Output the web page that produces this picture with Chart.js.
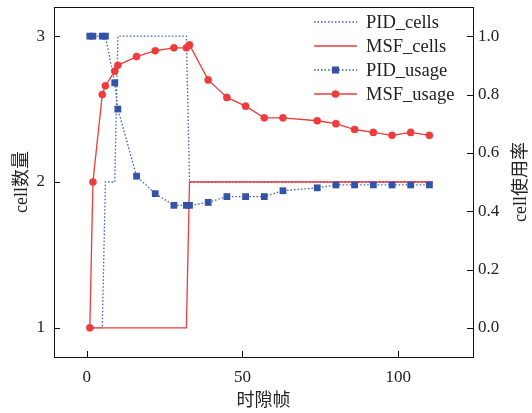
<!DOCTYPE html>
<html lang="zh">
<head>
<meta charset="UTF-8">
<title>cell数量与cell使用率</title>
<script src="https://cdn.jsdelivr.net/npm/chart.js"></script>
<style>
  html, body { margin: 0; padding: 0; background: #fff; }
  #wrap { width: 532px; height: 413px; }
</style>
</head>
<body>
<div id="wrap"><canvas id="chart" width="532" height="413"></canvas></div>
<script>
// 时隙帧 where the usage values were logged
const usageFrames = [1, 2, 5, 6, 9, 10, 16, 22, 28, 32, 33, 39, 45, 51, 57, 63, 74, 80, 86, 92, 98, 104, 110];
const pidUsage = [1.0, 1.0, 1.0, 1.0, 0.84, 0.75, 0.52, 0.46, 0.42, 0.42, 0.42, 0.43, 0.45, 0.45, 0.45, 0.47, 0.48, 0.49, 0.49, 0.49, 0.49, 0.49, 0.49];
const msfUsage = [0.0, 0.50, 0.80, 0.83, 0.88, 0.90, 0.93, 0.95, 0.96, 0.96, 0.97, 0.85, 0.79, 0.76, 0.72, 0.72, 0.71, 0.70, 0.68, 0.67, 0.66, 0.67, 0.66];

// cell count: frames where the step changes
const pidCellFrames = [1, 5, 6, 9, 10, 32, 33, 111];
const pidCells = [1, 1, 2, 2, 3, 3, 2, 2];
const msfCellFrames = [1, 32, 33, 111];
const msfCells = [1, 1, 2, 2];

const xTicks = [0, 50, 100];
const cellTicks = [1, 2, 3];
const usageTicks = [0, 0.2, 0.4, 0.6, 0.8, 1.0];

const pair = (xs, ys) => xs.map((x, i) => ({ x: x, y: ys[i] }));

const RED = '#ee3b3b';
const BLUE = '#3d5fb8';
const BLUE_MARK = '#3352a8';
const SERIF = '"Liberation Serif", "Times New Roman", serif';
const CJK = '"Liberation Serif", "Noto Sans CJK SC", serif';
const DOTS = [1.5, 2];

const legendRows = [
  { label: 'PID_cells', color: BLUE, dash: DOTS, marker: null },
  { label: 'MSF_cells', color: RED, dash: [], marker: null },
  { label: 'PID_usage', color: BLUE, dash: DOTS, marker: 'rect' },
  { label: 'MSF_usage', color: RED, dash: [], marker: 'circle' }
];

// no extra label padding, the box is set by afterFit + layout padding
function fixSize(prop, size) {
  return s => {
    s[prop] = size;
    s.paddingTop = 0; s.paddingBottom = 0;
    s.paddingLeft = 0; s.paddingRight = 0;
  };
}

// box, inward ticks, right title and legend
const extras = {
  id: 'extras',
  afterDraw(chart) {
    const { ctx, chartArea: a, scales } = chart;
    ctx.save();
    ctx.strokeStyle = '#111';
    ctx.lineWidth = 1;
    ctx.setLineDash([]);
    ctx.strokeRect(a.left + 0.5, a.top + 0.5, a.right - a.left, a.bottom - a.top);
    ctx.beginPath();
    xTicks.forEach(v => {
      const p = Math.round(scales.x.getPixelForValue(v)) + 0.5;
      ctx.moveTo(p, a.bottom); ctx.lineTo(p, a.bottom - 6);
    });
    cellTicks.forEach(v => {
      const p = Math.round(scales.yCell.getPixelForValue(v)) + 0.5;
      ctx.moveTo(a.left, p); ctx.lineTo(a.left + 6, p);
    });
    usageTicks.forEach(v => {
      const p = Math.round(scales.yUse.getPixelForValue(v)) + 0.5;
      ctx.moveTo(a.right, p); ctx.lineTo(a.right - 6, p);
    });
    ctx.stroke();

    // right axis title, reading bottom to top
    ctx.fillStyle = '#222';
    ctx.font = '18px ' + CJK;
    ctx.textAlign = 'center';
    ctx.textBaseline = 'middle';
    ctx.translate(521, (a.top + a.bottom) / 2);
    ctx.rotate(-Math.PI / 2);
    ctx.fillText('cell使用率', 0, 0);
    ctx.setTransform(1, 0, 0, 1, 0, 0);

    // legend
    const x0 = a.right - 159, x1 = a.right - 116, tx = a.right - 107;
    ctx.textAlign = 'left';
    ctx.font = '18.5px ' + SERIF;
    legendRows.forEach((r, i) => {
      const y = a.top + 15 + i * 24;
      ctx.strokeStyle = r.color;
      ctx.lineWidth = 1.3;
      ctx.setLineDash(r.dash);
      ctx.beginPath();
      ctx.moveTo(x0, y); ctx.lineTo(x1, y);
      ctx.stroke();
      ctx.setLineDash([]);
      const cx = (x0 + x1) / 2;
      if (r.marker === 'rect') {
        ctx.fillStyle = BLUE_MARK;
        ctx.fillRect(cx - 3.5, y - 3.5, 7, 7);
      } else if (r.marker === 'circle') {
        ctx.fillStyle = RED;
        ctx.beginPath();
        ctx.arc(cx, y, 3.8, 0, Math.PI * 2);
        ctx.fill();
      }
      ctx.fillStyle = '#222';
      ctx.fillText(r.label, tx, y + 1);
    });
    ctx.restore();
  }
};

new Chart(document.getElementById('chart'), {
  type: 'line',
  data: {
    datasets: [
      { label: 'PID_cells', data: pair(pidCellFrames, pidCells), yAxisID: 'yCell', order: 4,
        borderColor: BLUE, borderWidth: 1.3, borderDash: DOTS, pointRadius: 0, tension: 0 },
      { label: 'MSF_cells', data: pair(msfCellFrames, msfCells), yAxisID: 'yCell', order: 3,
        borderColor: RED, borderWidth: 1.3, pointRadius: 0, tension: 0 },
      { label: 'PID_usage', data: pair(usageFrames, pidUsage), yAxisID: 'yUse', order: 2,
        borderColor: BLUE, borderWidth: 1.3, borderDash: DOTS, tension: 0,
        pointStyle: 'rect', pointRadius: 4.8, pointBorderWidth: 0,
        pointBackgroundColor: BLUE_MARK, pointBorderColor: BLUE_MARK },
      { label: 'MSF_usage', data: pair(usageFrames, msfUsage), yAxisID: 'yUse', order: 1,
        borderColor: RED, borderWidth: 1.3, tension: 0,
        pointStyle: 'circle', pointRadius: 3.6, pointBorderWidth: 0.5,
        pointBackgroundColor: RED, pointBorderColor: RED }
    ]
  },
  options: {
    responsive: false,
    animation: false,
    devicePixelRatio: 1,
    layout: { padding: { top: 7, left: 0, right: 0, bottom: 0 } },
    plugins: { legend: { display: false }, tooltip: { enabled: false } },
    scales: {
      x: {
        type: 'linear', position: 'bottom', min: -10.5, max: 124,
        afterBuildTicks: s => { s.ticks = xTicks.map(v => ({ value: v })); },
        afterFit: fixSize('height', 56),
        grid: { display: false, drawTicks: false },
        border: { display: false },
        ticks: { font: { family: SERIF, size: 17 }, color: '#222', padding: 10 },
        title: { display: true, text: '时隙帧', font: { family: CJK, size: 18 }, color: '#222',
                 padding: { top: 0, bottom: 1 } }
      },
      yCell: {
        type: 'linear', position: 'left', min: 0.8, max: 3.2,
        afterBuildTicks: s => { s.ticks = cellTicks.map(v => ({ value: v })); },
        afterFit: fixSize('width', 54),
        grid: { display: false, drawTicks: false },
        border: { display: false },
        ticks: { font: { family: SERIF, size: 17 }, color: '#222', padding: 9 },
        title: { display: true, text: 'cell数量', font: { family: CJK, size: 18 }, color: '#222',
                 padding: { top: 11, bottom: 0 } }
      },
      yUse: {
        type: 'linear', position: 'right', min: -0.1, max: 1.1,
        afterBuildTicks: s => { s.ticks = usageTicks.map(v => ({ value: v })); },
        afterFit: fixSize('width', 59),
        grid: { display: false, drawTicks: false },
        border: { display: false },
        ticks: { font: { family: SERIF, size: 17 }, color: '#222', padding: 5,
                 callback: v => Number(v).toFixed(1) }
      }
    }
  },
  plugins: [extras]
});
</script>
</body>
</html>
